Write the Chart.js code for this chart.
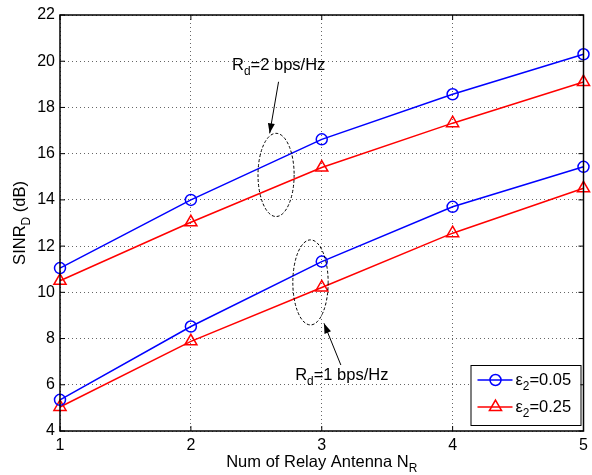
<!DOCTYPE html>
<html lang="en">
<head>
    <meta charset="UTF-8">
    <title>SINR vs Num of Relay Antenna</title>
    <style>
        body {
            margin: 0;
            background-color: white;
        }
        canvas {
            display: block;
        }
    </style>
</head>
<body>
    <canvas id="sinrChart" width="592" height="475"></canvas>

    <script src="https://cdn.jsdelivr.net/npm/chart.js"></script>

    <script>
        // values
        const relayAntennas = [1, 2, 3, 4, 5];
        const rd2Eps005 = [11.05, 14.0, 16.62, 18.57, 20.3];
        const rd2Eps025 = [10.5, 13.03, 15.4, 17.32, 19.1];
        const rd1Eps005 = [5.35, 8.52, 11.33, 13.7, 15.43];
        const rd1Eps025 = [5.04, 7.88, 10.21, 12.56, 14.5];
        const yTicks = [4, 6, 8, 10, 12, 14, 16, 18, 20, 22];
        const xTicks = [1, 2, 3, 4, 5];

        const blue = '#0000ff';
        const red = '#ff0000';
        const font = '"Liberation Sans", Arial, sans-serif';
        const txt = 16.5;

        const makeSet = (label, data, color, style, radius) => ({
            label: label,
            data: relayAntennas.map((x, i) => ({ x: x, y: data[i] })),
            borderColor: color,
            backgroundColor: 'transparent',
            borderWidth: 1.5,
            pointStyle: style,
            pointRadius: radius,
            pointBorderWidth: 1.5,
            pointBorderColor: color,
            pointBackgroundColor: 'transparent',
            clip: false,
            tension: 0
        });

        // draws a string made of [text, isSubscript] parts, returns width
        function subText(ctx, parts, x, y, size, measureOnly) {
            let w = 0;
            parts.forEach(p => {
                ctx.font = (p[1] ? size * 0.72 : size) + 'px ' + font;
                if (!measureOnly) ctx.fillText(p[0], x + w, y + (p[1] ? size * 0.3 : 0));
                w += ctx.measureText(p[0]).width;
            });
            return w;
        }

        function drawMarker(ctx, style, x, y, r) {
            ctx.beginPath();
            if (style === 'circle') {
                ctx.arc(x, y, r, 0, Math.PI * 2);
            } else {
                let rad = 0;
                for (let k = 0; k < 3; k++) {
                    const px = x + Math.sin(rad) * r, py = y - Math.cos(rad) * r;
                    k === 0 ? ctx.moveTo(px, py) : ctx.lineTo(px, py);
                    rad += Math.PI * 2 / 3;
                }
                ctx.closePath();
            }
            ctx.stroke();
        }

        const decorations = {
            id: 'decorations',
            afterDraw(chart) {
                const ctx = chart.ctx;
                const a = chart.chartArea;
                const xs = chart.scales.x, ys = chart.scales.y;
                ctx.save();
                ctx.fillStyle = '#000';
                ctx.strokeStyle = '#000';

                // frame and inward ticks
                ctx.lineWidth = 1.5;
                ctx.strokeRect(a.left, a.top, a.right - a.left, a.bottom - a.top);
                ctx.lineWidth = 1;
                ctx.beginPath();
                xTicks.forEach(t => {
                    const px = xs.getPixelForValue(t);
                    ctx.moveTo(px, a.bottom); ctx.lineTo(px, a.bottom - 5);
                    ctx.moveTo(px, a.top); ctx.lineTo(px, a.top + 5);
                });
                yTicks.forEach(t => {
                    const py = ys.getPixelForValue(t);
                    ctx.moveTo(a.left, py); ctx.lineTo(a.left + 5, py);
                    ctx.moveTo(a.right, py); ctx.lineTo(a.right - 5, py);
                });
                ctx.stroke();

                // ellipses around the curve pairs
                ctx.setLineDash([3, 2]);
                [[2.651, 15.08, 0.138, 1.80], [2.914, 10.43, 0.135, 1.84]].forEach(e => {
                    const cx = xs.getPixelForValue(e[0]), cy = ys.getPixelForValue(e[1]);
                    const rx = xs.getPixelForValue(e[0] + e[2]) - cx;
                    const ry = cy - ys.getPixelForValue(e[1] + e[3]);
                    ctx.beginPath();
                    ctx.ellipse(cx, cy, rx, ry, 0, 0, Math.PI * 2);
                    ctx.stroke();
                });
                ctx.setLineDash([]);

                // arrows
                [[2.670, 19.11, 2.602, 16.88], [3.146, 6.855, 3.017, 8.66]].forEach(r => {
                    const x0 = xs.getPixelForValue(r[0]), y0 = ys.getPixelForValue(r[1]);
                    const x1 = xs.getPixelForValue(r[2]), y1 = ys.getPixelForValue(r[3]);
                    const ang = Math.atan2(y1 - y0, x1 - x0);
                    ctx.beginPath();
                    ctx.moveTo(x0, y0); ctx.lineTo(x1, y1);
                    ctx.stroke();
                    ctx.beginPath();
                    ctx.moveTo(x1, y1);
                    ctx.lineTo(x1 - 10 * Math.cos(ang) + 3.5 * Math.sin(ang), y1 - 10 * Math.sin(ang) - 3.5 * Math.cos(ang));
                    ctx.lineTo(x1 - 10 * Math.cos(ang) - 3.5 * Math.sin(ang), y1 - 10 * Math.sin(ang) + 3.5 * Math.cos(ang));
                    ctx.closePath();
                    ctx.fill();
                });

                // annotation labels
                ctx.textBaseline = 'alphabetic';
                ctx.textAlign = 'left';
                subText(ctx, [['R', 0], ['d', 1], ['=2 bps/Hz', 0]],
                    xs.getPixelForValue(2.315), ys.getPixelForValue(19.62), txt);
                subText(ctx, [['R', 0], ['d', 1], ['=1 bps/Hz', 0]],
                    xs.getPixelForValue(2.797), ys.getPixelForValue(6.207), txt);

                // x axis title
                const xParts = [['Num of Relay Antenna N', 0], ['R', 1]];
                const xw = subText(ctx, xParts, 0, 0, txt, true);
                subText(ctx, xParts, (a.left + a.right) / 2 - xw / 2, 467, txt);

                // y axis title
                const yParts = [['SINR', 0], ['D', 1], [' (dB)', 0]];
                const yw = subText(ctx, yParts, 0, 0, txt, true);
                ctx.save();
                ctx.translate(25, (a.top + a.bottom) / 2);
                ctx.rotate(-Math.PI / 2);
                subText(ctx, yParts, -yw / 2, 0, txt);
                ctx.restore();

                // legend
                const lx = a.right - 113, ly = a.bottom - 66, lw = 110, lh = 60;
                ctx.fillStyle = '#fff';
                ctx.fillRect(lx, ly, lw, lh);
                ctx.lineWidth = 1;
                ctx.strokeRect(lx + 0.5, ly + 0.5, lw, lh);
                const entries = [
                    [blue, 'circle', 5.5, '0.05'],
                    [red, 'triangle', 7, '0.25']
                ];
                entries.forEach((en, i) => {
                    const ry = ly + 15 + i * 27;
                    ctx.strokeStyle = en[0];
                    ctx.lineWidth = 1.5;
                    ctx.beginPath();
                    ctx.moveTo(lx + 7, ry); ctx.lineTo(lx + 42, ry);
                    ctx.stroke();
                    drawMarker(ctx, en[1], lx + 25, ry, en[2]);
                    ctx.fillStyle = '#000';
                    subText(ctx, [['\u03b5', 0], ['2', 1], ['=' + en[3], 0]], lx + 45, ry + 5, txt);
                });
                ctx.restore();
            }
        };

        window.onload = function() {
            const ctx = document.getElementById('sinrChart').getContext('2d');
            new Chart(ctx, {
                type: 'line',
                data: {
                    datasets: [
                        makeSet('Rd=2, eps=0.05', rd2Eps005, blue, 'circle', 5.5),
                        makeSet('Rd=2, eps=0.25', rd2Eps025, red, 'triangle', 7),
                        makeSet('Rd=1, eps=0.05', rd1Eps005, blue, 'circle', 5.5),
                        makeSet('Rd=1, eps=0.25', rd1Eps025, red, 'triangle', 7)
                    ]
                },
                options: {
                    responsive: false,
                    animation: false,
                    layout: { padding: { left: 0, right: 5, top: 15, bottom: 0 } },
                    plugins: {
                        legend: { display: false },
                        tooltip: { enabled: false }
                    },
                    scales: {
                        x: {
                            type: 'linear',
                            min: 1,
                            max: 5,
                            afterBuildTicks: s => { s.ticks = xTicks.map(v => ({ value: v })); },
                            afterFit: s => { s.height = 44; s.paddingLeft = 0; s.paddingRight = 0; },
                            ticks: { color: '#000', padding: 5, font: { family: font, size: 16 } },
                            grid: { color: 'rgba(0,0,0,0.6)', lineWidth: 1, drawTicks: false },
                            border: { display: false, dash: [1, 3] }
                        },
                        y: {
                            min: 4,
                            max: 22,
                            afterBuildTicks: s => { s.ticks = yTicks.map(v => ({ value: v })); },
                            afterFit: s => { s.width = 60; s.paddingTop = 0; s.paddingBottom = 0; },
                            ticks: { color: '#000', padding: 5, font: { family: font, size: 16 } },
                            grid: { color: 'rgba(0,0,0,0.6)', lineWidth: 1, drawTicks: false },
                            border: { display: false, dash: [1, 3] }
                        }
                    }
                },
                plugins: [decorations]
            });
        };
    </script>
</body>
</html>
